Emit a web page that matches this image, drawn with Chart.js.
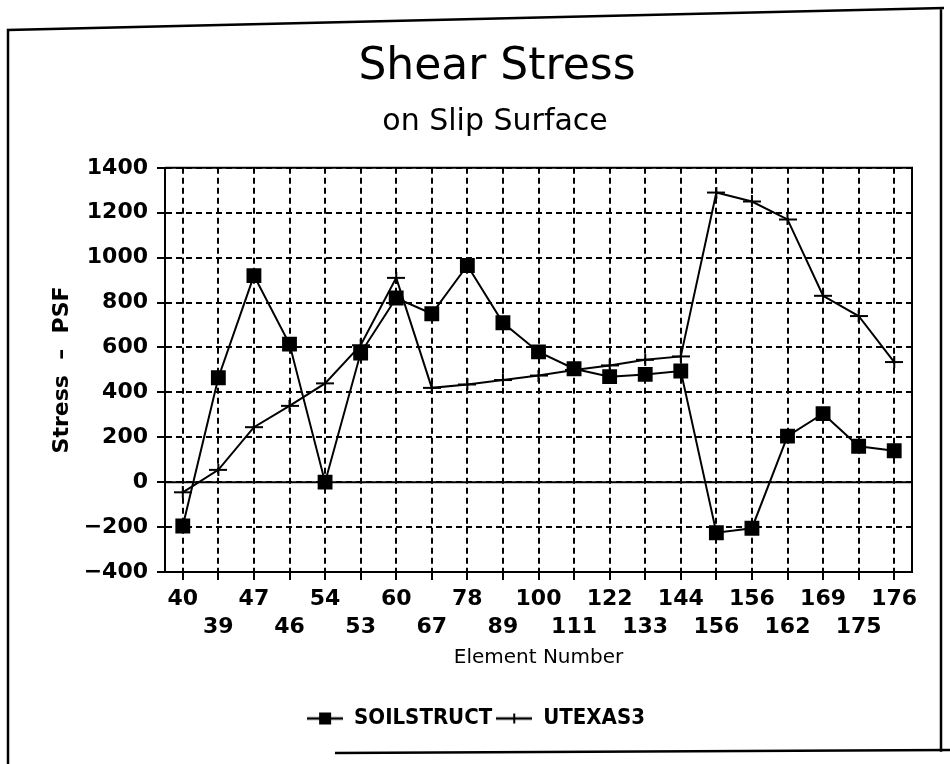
<!DOCTYPE html>
<html>
<head>
<meta charset="utf-8">
<script src="https://cdn.jsdelivr.net/npm/chart.js@4.4.1/dist/chart.umd.min.js"></script>
<style>
  body { margin: 0; background: #fff; overflow: hidden; }
  canvas { display: block; }
</style>
</head>
<body>
<canvas id="stress-chart" width="950" height="764"></canvas>
<script>
// element numbers along the slip surface
const elements = ['40', '39', '47', '46', '54', '53', '60', '67', '78', '89', '100',
  '111', '122', '133', '144', '156', '156', '162', '169', '175', '176']

// shear stress, psf
const soilstruct = [-195, 465, 920, 615, 0, 575, 820, 750, 965, 710, 580,
  505, 470, 480, 495, -225, -205, 205, 305, 160, 140]
const utexas3 = [-45, 55, 245, 340, 440, 610, 910, 420, 435, 455, 475,
  500, 520, 545, 560, 1290, 1250, 1170, 830, 740, 535]

const yMin = -400
const yMax = 1400
const yStep = 200


// marker pictures
const crossMark = document.createElement('canvas')
crossMark.width = 18
crossMark.height = 12
let c = crossMark.getContext('2d')
c.strokeStyle = '#000'
c.lineWidth = 2
c.beginPath()
c.moveTo(0, 6); c.lineTo(18, 6)
c.moveTo(9, 0); c.lineTo(9, 12)
c.stroke()

const legendSoil = document.createElement('canvas')
legendSoil.width = 36
legendSoil.height = 14
c = legendSoil.getContext('2d')
c.strokeStyle = '#000'
c.lineWidth = 2.5
c.beginPath(); c.moveTo(0, 7); c.lineTo(36, 7); c.stroke()
c.fillStyle = '#000'
c.fillRect(12, 1, 12, 12)

const legendUtex = document.createElement('canvas')
legendUtex.width = 36
legendUtex.height = 14
c = legendUtex.getContext('2d')
c.strokeStyle = '#000'
c.lineWidth = 2.5
c.beginPath(); c.moveTo(0, 7); c.lineTo(36, 7); c.stroke()
c.lineWidth = 2
c.beginPath(); c.moveTo(18, 2); c.lineTo(18, 12); c.stroke()


const framePlugin = {
  id: 'frame',
  beforeDraw(chart) {
    const g = chart.ctx
    g.save()
    g.fillStyle = '#fff'
    g.fillRect(0, 0, chart.width, chart.height)
    g.strokeStyle = '#000'
    g.lineWidth = 2.5
    g.beginPath()
    g.moveTo(8, 764); g.lineTo(8, 30)
    g.lineTo(944, 8)
    g.moveTo(941, 8); g.lineTo(941, 752)
    g.moveTo(335, 753); g.lineTo(950, 750)
    g.stroke()
    g.restore()
  },
  afterDatasetsDraw(chart) {
    const g = chart.ctx
    const a = chart.chartArea
    const y0 = chart.scales.y.getPixelForValue(0)
    g.save()
    g.strokeStyle = '#000'
    g.lineWidth = 2
    g.beginPath()
    g.moveTo(a.left, y0); g.lineTo(a.right, y0)
    g.moveTo(a.left, a.top); g.lineTo(a.right, a.top); g.lineTo(a.right, a.bottom)
    g.stroke()
    g.restore()
  }
}

const ctx = document.getElementById('stress-chart')

const tickFont = { family: 'DejaVu Sans', size: 22, weight: 'bold', lineHeight: 28 / 22 }

const myChart = new Chart(ctx, {
  type: 'line',
  data: {
    labels: elements,
    datasets: [{
      label: 'SOILSTRUCT',
      data: soilstruct,
      borderColor: '#000',
      backgroundColor: '#000',
      borderWidth: 2,
      pointStyle: 'rect',
      pointRadius: 10.5,
      pointBorderWidth: 0,
      tension: 0
    }, {
      label: 'UTEXAS3',
      data: utexas3,
      borderColor: '#000',
      backgroundColor: '#000',
      borderWidth: 2,
      pointStyle: crossMark,
      pointRadius: 9,
      tension: 0
    }]
  },
  options: {
    responsive: false,
    devicePixelRatio: 1,
    animation: false,
    events: [],
    layout: {
      padding: { left: 40, right: 38, top: 18, bottom: 24.5 }
    },
    scales: {
      x: {
        offset: true,
        grid: {
          color: '#000',
          lineWidth: 2,
          tickLength: 8,
          tickBorderDash: [],
          offset: false
        },
        border: { color: '#000', width: 2, dash: [6, 4] },
        ticks: {
          color: '#000',
          font: tickFont,
          padding: 5,
          autoSkip: false,
          maxRotation: 0,
          callback: (value, index) => index % 2 === 0 ? [elements[index], ''] : ['', elements[index]]
        },
        title: {
          display: true,
          text: 'Element Number',
          color: '#000',
          font: { family: 'DejaVu Sans', size: 20, lineHeight: 1.2 },
          padding: { top: 0, bottom: 33.5 }
        }
      },
      y: {
        min: yMin,
        max: yMax,
        grid: {
          color: '#000',
          lineWidth: 2,
          tickLength: 8,
          tickBorderDash: []
        },
        border: { color: '#000', width: 2, dash: [6, 4] },
        ticks: {
          stepSize: yStep,
          color: '#000',
          font: tickFont,
          padding: 9,
          callback: (value) => String(value).replace('-', '\u2212')
        },
        title: {
          display: true,
          text: 'Stress  –  PSF',
          color: '#000',
          font: { family: 'DejaVu Sans', size: 22, weight: 'bold', lineHeight: 1.2 },
          padding: { top: 9, bottom: 12 }
        },
        afterFit: (scale) => { scale.width = 125 }
      }
    },
    plugins: {
      title: {
        display: true,
        text: '   Shear Stress',
        color: '#000',
        font: { family: 'DejaVu Sans', size: 44, weight: 'normal', lineHeight: 1.2 },
        padding: { top: 23, bottom: 0 }
      },
      subtitle: {
        display: true,
        text: '    on Slip Surface',
        color: '#000',
        font: { family: 'DejaVu Sans', size: 30, weight: 'normal', lineHeight: 1.2 },
        padding: { top: 10, bottom: 28 }
      },
      legend: {
        position: 'bottom',
        labels: {
          color: '#000',
          font: { family: "'Liberation Sans Narrow', 'DejaVu Sans Condensed', sans-serif", size: 22, weight: 'bold' },
          usePointStyle: true,
          pointStyleWidth: 36,
          padding: 4,
          generateLabels: (chart) => {
            const items = Chart.defaults.plugins.legend.labels.generateLabels(chart)
            items[0].pointStyle = legendSoil
            items[1].pointStyle = legendUtex
            return items
          }
        }
      },
      tooltip: { enabled: false }
    }
  },
  plugins: [framePlugin]
})
</script>
</body>
</html>
